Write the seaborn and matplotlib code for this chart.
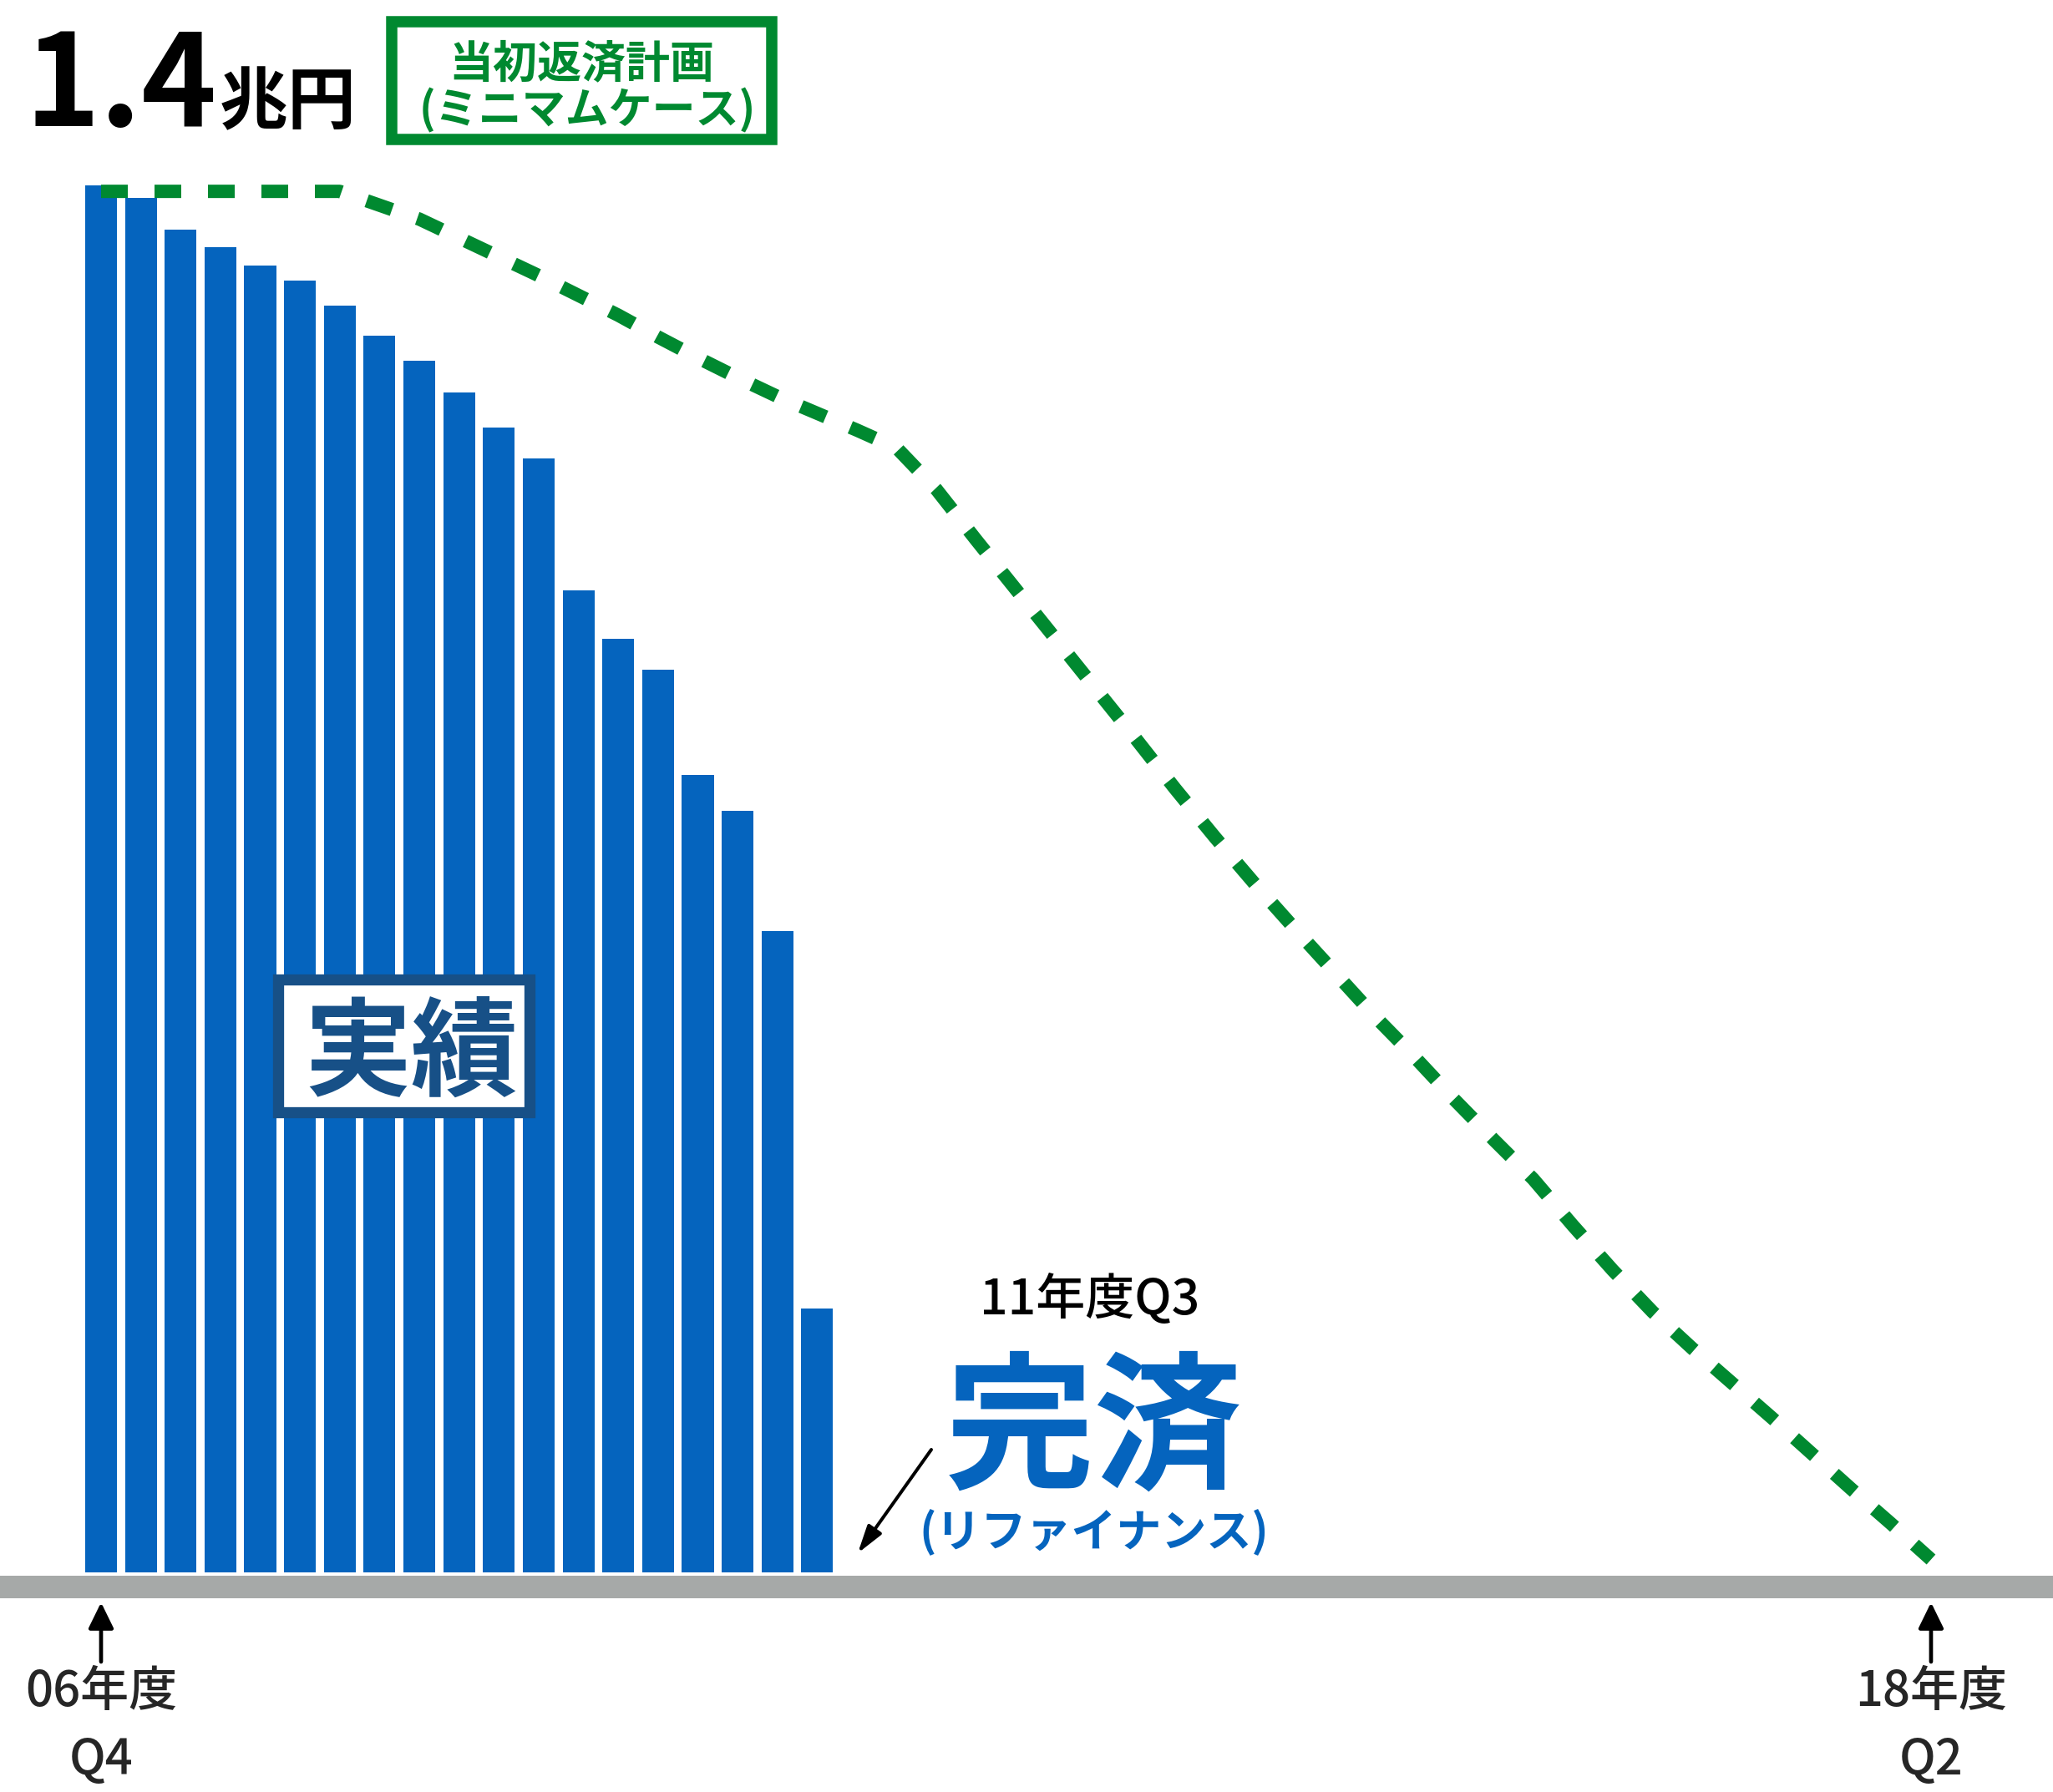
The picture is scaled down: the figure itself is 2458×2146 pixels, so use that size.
import matplotlib
matplotlib.use('Agg')
import matplotlib.pyplot as plt
from matplotlib.patches import Rectangle
import seaborn as sns

# quarters counted from FY06 Q4 (=0) up to FY18 Q2 (=46), values in 兆円
actual_q = list(range(19))
actual = [1.400, 1.387, 1.355, 1.338, 1.319, 1.304, 1.279, 1.248, 1.223, 1.191,
          1.156, 1.124, 0.991, 0.942, 0.911, 0.805, 0.769, 0.647, 0.266]

plan_q = list(range(47))
plan = [1.394, 1.394, 1.394, 1.394, 1.394, 1.394, 1.394, 1.380, 1.366, 1.347,
        1.328, 1.309, 1.289, 1.269, 1.247, 1.226, 1.206, 1.187, 1.170, 1.153,
        1.135, 1.093, 1.042, 0.992, 0.942, 0.892, 0.842, 0.791, 0.742, 0.695,
        0.650, 0.606, 0.562, 0.521, 0.478, 0.437, 0.397, 0.350, 0.305, 0.263,
        0.226, 0.191, 0.156, 0.120, 0.084, 0.049, 0.013]

start_q, end_q = 0, 46
start_label = ['06年度', 'Q4']
end_label = ['18年度', 'Q2']

BLUE = '#0564be'
NAVY = '#175087'
GREEN = '#008930'
GRAY = '#a6a9a8'

W, H, DPI = 2458, 2146, 200
sns.set_style('white')
plt.rcParams['font.family'] = ['Noto Sans CJK JP', 'DejaVu Sans']

fig = plt.figure(figsize=(W / DPI, H / DPI), dpi=DPI)
ax = fig.add_axes([0, 0, 1, 1])

# pixel layout
X0, PXQ = 121, 47.63     # px of quarter 0, px per quarter
Y0, PXV = 1883, 1186.4   # px of value 0, px per 1 兆円


def fx(px):
    return px / W


def fy(py):
    return 1 - py / H


def pt(px):
    return px * 72 / DPI


# --- bars (実績) and dashed plan line ---
sns.barplot(x=actual_q, y=actual, native_scale=True, width=0.8, color=BLUE,
            saturation=1, errorbar=None, linewidth=0, ax=ax, zorder=2)
sns.lineplot(x=plan_q, y=plan, color=GREEN, linewidth=pt(16),
             linestyle=(0, (2, 2)), ax=ax, zorder=3)

ax.set_xlim(-X0 / PXQ, (W - X0) / PXQ)
ax.set_ylim(-(H - Y0) / PXV, Y0 / PXV)
ax.axis('off')

# gray baseline band
ax.axhspan(-(1914 - Y0) / PXV, -(1887 - Y0) / PXV, color=GRAY, lw=0, zorder=1)

# --- title "1.4兆円" ---
fig.text(fx(30), fy(151), '1.4', fontsize=pt(153), fontweight='bold',
         color='black', ha='left', va='baseline')
fig.text(fx(263), fy(124), '兆円', fontsize=pt(82), fontweight='bold',
         color='black', ha='left', va='center')

# green legend box
fig.add_artist(Rectangle((fx(469), fy(167)), fx(924 - 469), (167 - 26) / H,
                         transform=fig.transFigure, fill=False,
                         edgecolor=GREEN, lw=pt(13.5)))
fig.text(fx(696), fy(77), '当初返済計画', fontsize=pt(53), fontweight='bold',
         color=GREEN, ha='center', va='center')
fig.text(fx(703), fy(132), '(ミニマムケース)', fontsize=pt(52), fontweight='bold',
         color=GREEN, ha='center', va='center')

# 実績 label box
fig.add_artist(Rectangle((fx(332.6), fy(1332.4)), fx(634 - 332.6),
                         (1332.4 - 1172.6) / H, transform=fig.transFigure,
                         facecolor='white', edgecolor=NAVY, lw=pt(13.3)))
fig.text(fx(492), fy(1264), '実績', fontsize=pt(128), fontweight='bold',
         color=NAVY, ha='center', va='center')

# completion note
fig.text(fx(1305), fy(1556), '11年度Q3', fontsize=pt(59), fontweight=500,
         color='black', ha='center', va='center')
fig.text(fx(1310), fy(1716), '完済', fontsize=pt(178), fontweight='bold',
         color=BLUE, ha='center', va='center')
fig.text(fx(1310), fy(1836), '(リファイナンス)', fontsize=pt(54), fontweight='bold',
         color=BLUE, ha='center', va='center')
ax.annotate('', xy=(fx(1027), fy(1860)), xytext=(fx(1115), fy(1736)),
            xycoords='figure fraction', textcoords='figure fraction',
            arrowprops=dict(arrowstyle='-|>,head_length=0.5,head_width=0.15',
                            color='black', lw=pt(4), mutation_scale=20,
                            shrinkA=0, shrinkB=0))

# start / end markers under the axis
for q, (l1, l2) in [(start_q, start_label), (end_q, end_label)]:
    ax.annotate('', xy=(q, fy(1919)), xytext=(q, fy(1990)),
                xycoords=('data', 'figure fraction'),
                textcoords=('data', 'figure fraction'),
                arrowprops=dict(arrowstyle='-|>,head_length=0.47,head_width=0.23',
                                color='black', lw=pt(4.7), mutation_scale=20,
                                shrinkA=0, shrinkB=0))
    ax.text(q, fy(2027), l1, transform=ax.get_xaxis_transform(), fontsize=pt(58),
            fontweight=500, ha='center', va='center')
    ax.text(q, fy(2108), l2, transform=ax.get_xaxis_transform(), fontsize=pt(58),
            fontweight=500, ha='center', va='center')

fig.savefig('out.png', dpi=DPI)
